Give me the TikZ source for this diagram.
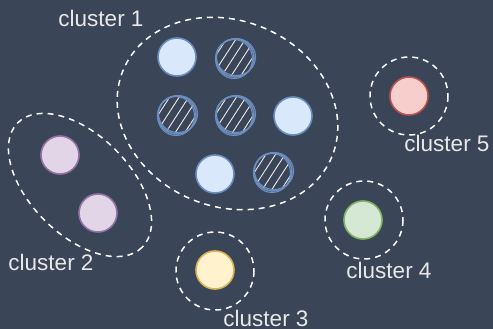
\documentclass[tikz,border=0pt]{standalone}
\usepackage{fontspec}
\setmainfont{Liberation Sans}
\usetikzlibrary{patterns.meta}
\definecolor{bg}{RGB}{59,69,88}
\definecolor{txt}{RGB}{232,232,232}
\definecolor{bluefill}{HTML}{DAE8FC}
\definecolor{bluestroke}{HTML}{6C8EBF}
\definecolor{purplefill}{HTML}{E1D5E7}
\definecolor{purplestroke}{HTML}{9673A6}
\definecolor{yellowfill}{HTML}{FFF2CC}
\definecolor{yellowstroke}{HTML}{D6B656}
\definecolor{greenfill}{HTML}{D5E8D4}
\definecolor{greenstroke}{HTML}{82B366}
\definecolor{redfill}{HTML}{F8CECC}
\definecolor{redstroke}{HTML}{B85450}
\tikzset{
  pt/.style={circle, minimum size=38pt, inner sep=0pt, line width=1.6pt},
  bluept/.style={pt, fill=bluefill, draw=bluestroke},
  hatchpt/.style={pt, draw=bluestroke, line width=1.5pt,
     pattern={Lines[angle=57,distance=8pt,line width=0.9pt]}, pattern color=txt!80},
  purplept/.style={pt, fill=purplefill, draw=purplestroke},
  yellowpt/.style={pt, fill=yellowfill, draw=yellowstroke},
  greenpt/.style={pt, fill=greenfill, draw=greenstroke},
  redpt/.style={pt, fill=redfill, draw=redstroke},
  boundary/.style={draw=white, dashed, dash pattern=on 6pt off 5pt, line width=1.5pt},
  sketch/.style={draw=bluestroke, line width=1.1pt},
  lbl/.style={text=txt, font=\fontsize{22.5}{26}\selectfont, inner sep=0pt},
}
\begin{document}
\begin{tikzpicture}[x=1pt,y=-1pt]
\fill[bg] (0,0) rectangle (493,329);
\useasboundingbox (0,0) rectangle (493,329);
% cluster boundaries
\draw[boundary, rotate around={-22.5:(227.5,113.5)}] (227.5,113.5) ellipse [x radius=113, y radius=93];
\draw[boundary, rotate around={-45:(80,185)}] (80,185) ellipse [x radius=88, y radius=50];
\draw[boundary] (215,271) circle [radius=39];
\draw[boundary] (364,220) circle [radius=39];
\draw[boundary] (409,96) circle [radius=39];
% cluster 1 points
\node[bluept] (a1) at (177,57) {};
\node[hatchpt] (a2) at (235,58) {};
\node[hatchpt] (a3) at (177,115) {};
\node[hatchpt] (a4) at (235,115) {};
\node[bluept] (a5) at (293,116) {};
\node[bluept] (a6) at (215,174) {};
\node[hatchpt] (a7) at (273,172) {};
\foreach \n in {a2,a3,a4,a7}{
  \draw[sketch] ([shift={(1,-1)}]\n.center) circle [x radius=19.5, y radius=18.5];
  \draw[sketch] ([shift={(-1,1)}]\n.center) circle [x radius=18.5, y radius=19.5];
}
% cluster 2 points
\node[purplept] (b1) at (60,155) {};
\node[purplept] (b2) at (98,213) {};
% other clusters
\node[yellowpt] (c1) at (215,270) {};
\node[greenpt] (d1) at (363,220) {};
\node[redpt] (e1) at (409,96) {};
% labels
\node[lbl] (l1) at (101,18) {cluster 1};
\node[lbl] (l2) at (51,262) {cluster 2};
\node[lbl] (l3) at (266,318) {cluster 3};
\node[lbl] (l4) at (389,270) {cluster 4};
\node[lbl] (l5) at (447,143) {cluster 5};
\end{tikzpicture}
\end{document}
